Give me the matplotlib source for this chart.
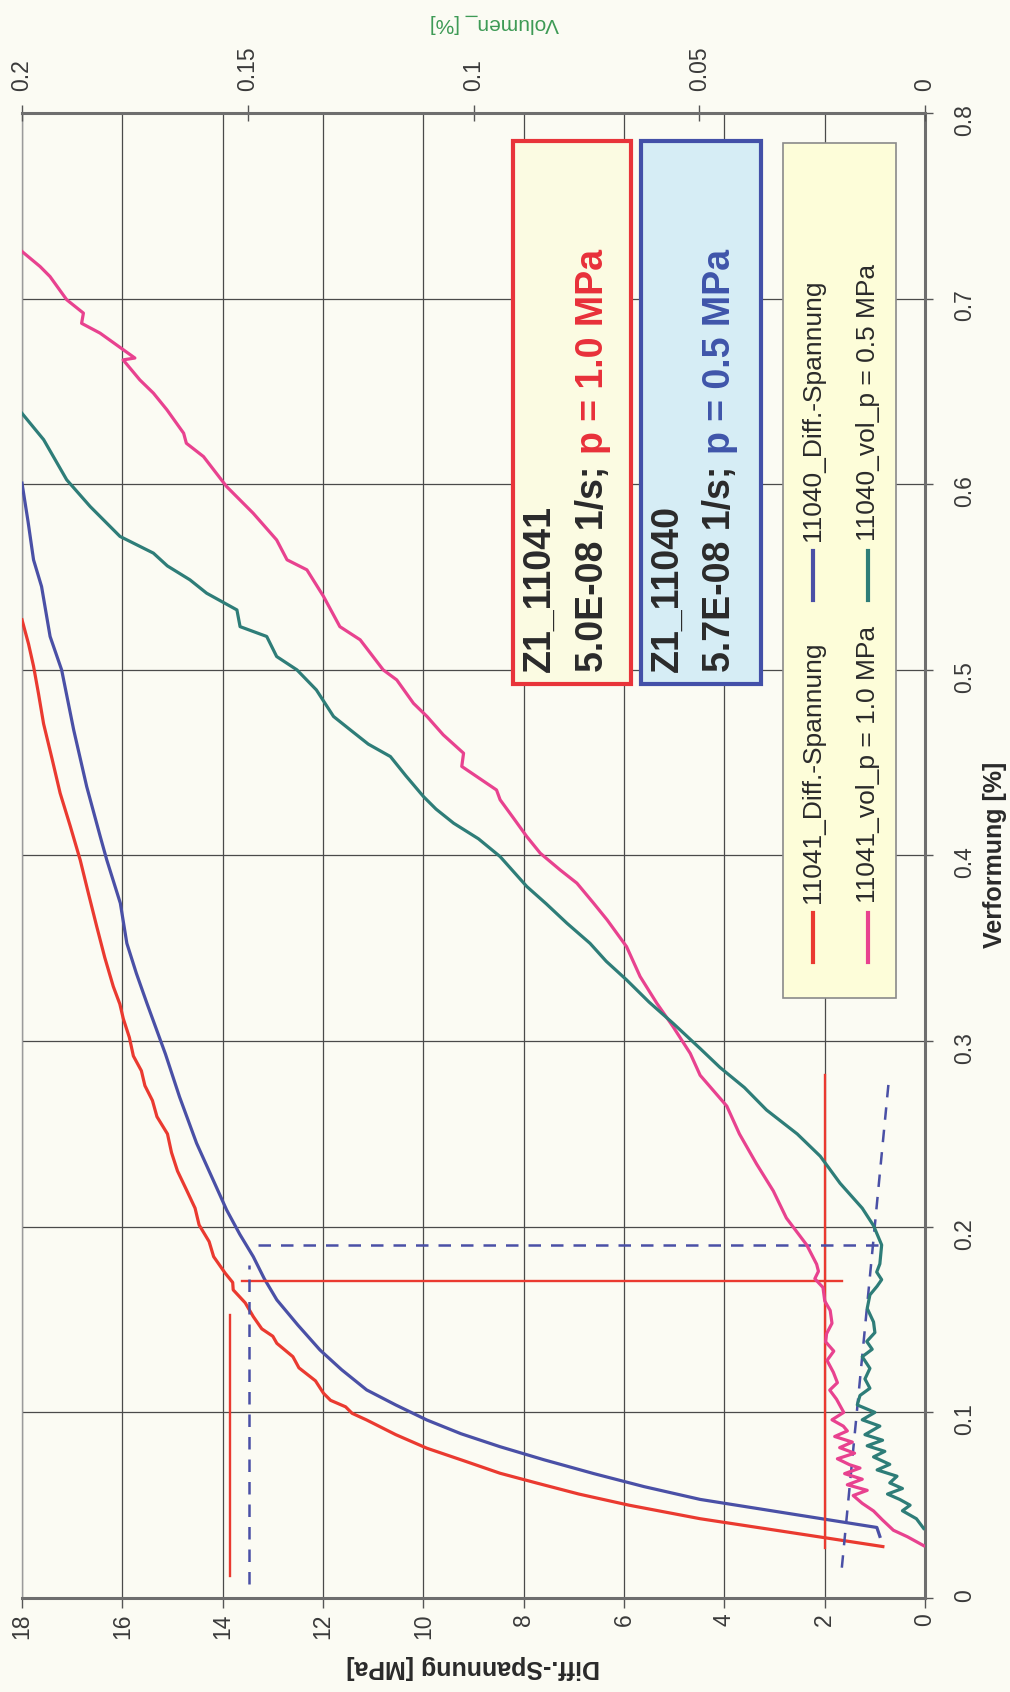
import matplotlib
matplotlib.use("Agg")
import matplotlib.pyplot as plt
from matplotlib.patches import Rectangle
from matplotlib.lines import Line2D

plt.rcParams['font.family'] = ['Liberation Sans', 'DejaVu Sans']

# --- axis ticks -------------------------------------------------------------
STRESS_TICKS = [18, 16, 14, 12, 10, 8, 6, 4, 2, 0]
STRAIN_TICKS = [0, 0.1, 0.2, 0.3, 0.4, 0.5, 0.6, 0.7, 0.8]
STRAIN_LABELS = ["0", "0.1", "0.2", "0.3", "0.4", "0.5", "0.6", "0.7", "0.8"]
VOL_TICKS = [0.2, 0.15, 0.1, 0.05, 0]
VOL_LABELS = ["0.2", "0.15", "0.1", "0.05", "0"]

# --- 11041 Diff.-Spannung (strain %, stress MPa) -----------------------------
red_eps = [0.0277, 0.0350, 0.0427, 0.0500, 0.0560, 0.0620, 0.0672, 0.0740, 0.0807,
           0.0880, 0.0959, 0.0995, 0.1030, 0.1065, 0.1103, 0.1170, 0.1240, 0.1300,
           0.1372, 0.1410, 0.1450, 0.1516, 0.1590, 0.1660, 0.1700, 0.1750, 0.1839,
           0.1920, 0.2010, 0.2100, 0.2198, 0.2300, 0.2400, 0.2500, 0.2593, 0.2680,
           0.2760, 0.2840, 0.2920, 0.3020, 0.3120, 0.3200, 0.3294, 0.3450, 0.3617,
           0.3800, 0.3976, 0.4160, 0.4336, 0.4520, 0.4710, 0.4870, 0.5020, 0.5140,
           0.5270]
red_sig = [0.84, 2.61, 4.48, 5.90, 6.90, 7.75, 8.47, 9.20, 9.93,
           10.55, 11.13, 11.42, 11.55, 11.85, 11.99, 12.15, 12.48, 12.60,
           12.92, 13.00, 13.22, 13.39, 13.55, 13.79, 13.80, 13.95, 14.18,
           14.27, 14.47, 14.55, 14.72, 14.90, 15.02, 15.10, 15.31, 15.40,
           15.55, 15.62, 15.78, 15.86, 15.98, 16.05, 16.18, 16.35, 16.51,
           16.68, 16.84, 17.04, 17.24, 17.40, 17.57, 17.67, 17.77, 17.87,
           18.00]

# --- 11040 Diff.-Spannung -----------------------------------------------------
blue_eps = [0.0332, 0.0380, 0.0455, 0.0531, 0.0600, 0.0670, 0.0745, 0.0815, 0.0885,
            0.0959, 0.1040, 0.1121, 0.1230, 0.1336, 0.1470, 0.1606, 0.1720, 0.1839,
            0.1960, 0.2090, 0.2270, 0.2450, 0.2700, 0.2930, 0.3204, 0.3365, 0.3527,
            0.3743, 0.3976, 0.4102, 0.4371, 0.4677, 0.5000, 0.5180, 0.5449, 0.5593,
            0.5800, 0.6006]
blue_sig = [0.90, 0.96, 2.71, 4.48, 5.60, 6.60, 7.60, 8.47, 9.25,
            9.93, 10.55, 11.13, 11.63, 12.06, 12.50, 12.92, 13.17, 13.39,
            13.66, 13.92, 14.22, 14.52, 14.86, 15.14, 15.51, 15.72, 15.91,
            16.04, 16.31, 16.44, 16.71, 16.97, 17.21, 17.44, 17.61, 17.77,
            17.88, 18.00]

# --- 11041 vol, p = 1.0 MPa (strain %, Volumen %) ----------------------------
mag_eps = [0.0282, 0.0330, 0.0365, 0.0420, 0.0469, 0.0510, 0.0552, 0.0580, 0.0610,
           0.0640, 0.0670, 0.0700, 0.0718, 0.0750, 0.0780, 0.0810, 0.0840, 0.0870,
           0.0900, 0.0926, 0.0960, 0.1000, 0.1071, 0.1120, 0.1160, 0.1216, 0.1280,
           0.1330, 0.1380, 0.1424, 0.1480, 0.1549, 0.1600, 0.1673, 0.1720, 0.1760,
           0.1798, 0.1902, 0.2047, 0.2193, 0.2338, 0.2500, 0.2650, 0.2816, 0.2934,
           0.3078, 0.3204, 0.3348, 0.3509, 0.3653, 0.3743, 0.3851, 0.3922, 0.4012,
           0.4102, 0.4200, 0.4300, 0.4353, 0.4480, 0.4551, 0.4650, 0.4749, 0.4820,
           0.4946, 0.5000, 0.5162, 0.5233, 0.5395, 0.5539, 0.5593, 0.5700, 0.5844,
           0.5988, 0.6149, 0.6221, 0.6275, 0.6401, 0.6491, 0.6562, 0.6670, 0.6680,
           0.6814, 0.6867, 0.6922, 0.6994, 0.7119, 0.7173, 0.7254]
mag_vol = [0.0003, 0.0039, 0.0070, 0.0094, 0.0114, 0.0139, 0.0159, 0.0128, 0.0172,
           0.0139, 0.0178, 0.0144, 0.0167, 0.0194, 0.0156, 0.0189, 0.0161, 0.0200,
           0.0172, 0.0181, 0.0206, 0.0180, 0.0196, 0.0211, 0.0194, 0.0203, 0.0217,
           0.0202, 0.0220, 0.0218, 0.0206, 0.0210, 0.0222, 0.0226, 0.0244, 0.0236,
           0.0240, 0.0262, 0.0307, 0.0336, 0.0373, 0.0411, 0.0439, 0.0498, 0.0520,
           0.0558, 0.0594, 0.0631, 0.0661, 0.0704, 0.0734, 0.0771, 0.0808, 0.0852,
           0.0882, 0.0911, 0.0941, 0.0949, 0.1026, 0.1022, 0.1067, 0.1103, 0.1133,
           0.1170, 0.1200, 0.1251, 0.1296, 0.1332, 0.1369, 0.1413, 0.1436, 0.1488,
           0.1547, 0.1598, 0.1636, 0.1642, 0.1679, 0.1709, 0.1739, 0.1776, 0.1750,
           0.1827, 0.1868, 0.1864, 0.1901, 0.1938, 0.1960, 0.2000]

# --- 11040 vol, p = 0.5 MPa ---------------------------------------------------
teal_eps = [0.0375, 0.0427, 0.0470, 0.0500, 0.0531, 0.0560, 0.0590, 0.0620, 0.0656,
            0.0690, 0.0720, 0.0760, 0.0790, 0.0820, 0.0850, 0.0880, 0.0926, 0.0960,
            0.1000, 0.1040, 0.1091, 0.1130, 0.1180, 0.1237, 0.1300, 0.1340, 0.1382,
            0.1430, 0.1487, 0.1560, 0.1633, 0.1680, 0.1715, 0.1756, 0.1800, 0.1902,
            0.2006, 0.2100, 0.2234, 0.2380, 0.2500, 0.2629, 0.2750, 0.2858, 0.2960,
            0.3096, 0.3210, 0.3330, 0.3430, 0.3527, 0.3635, 0.3740, 0.3833, 0.3994,
            0.4090, 0.4174, 0.4250, 0.4318, 0.4430, 0.4533, 0.4600, 0.4677, 0.4749,
            0.4892, 0.5000, 0.5072, 0.5180, 0.5233, 0.5323, 0.5413, 0.5485, 0.5560,
            0.5629, 0.5719, 0.5880, 0.6024, 0.6240, 0.6382]
teal_vol = [0.0003, 0.0019, 0.0050, 0.0033, 0.0056, 0.0083, 0.0050, 0.0078, 0.0062,
            0.0106, 0.0078, 0.0114, 0.0089, 0.0128, 0.0094, 0.0133, 0.0100, 0.0139,
            0.0111, 0.0150, 0.0144, 0.0122, 0.0133, 0.0122, 0.0139, 0.0117, 0.0129,
            0.0111, 0.0114, 0.0128, 0.0122, 0.0106, 0.0096, 0.0107, 0.0100, 0.0096,
            0.0114, 0.0139, 0.0188, 0.0232, 0.0283, 0.0351, 0.0400, 0.0454, 0.0498,
            0.0558, 0.0611, 0.0661, 0.0706, 0.0742, 0.0793, 0.0839, 0.0882, 0.0941,
            0.0989, 0.1044, 0.1083, 0.1111, 0.1150, 0.1184, 0.1233, 0.1273, 0.1310,
            0.1348, 0.1391, 0.1436, 0.1458, 0.1517, 0.1524, 0.1591, 0.1628, 0.1678,
            0.1709, 0.1783, 0.1849, 0.1901, 0.1952, 0.2000]

# --- construction lines (stress MPa, strain %) -------------------------------
red_line_sig = [[13.62, 1.66], [2.0, 2.0], [13.85, 13.85]]
red_line_eps = [[0.171, 0.171], [0.027, 0.282], [0.012, 0.1525]]
blue_line_sig = [[13.29, 0.86], [13.47, 13.47], [0.73, 1.66]]
blue_line_eps = [[0.190, 0.190], [0.0075, 0.1794], [0.2764, 0.0157]]

legend_labels = ["11041_Diff.-Spannung", "11041_vol_p = 1.0 MPa",
                 "11040_Diff.-Spannung", "11040_vol_p = 0.5 MPa"]

PAPER = '#fbfbf3'
RED = '#ea3a30'
BLUE = '#4a50a6'
TEAL = '#2e7d78'
MAGENTA = '#e8428f'
TICKC = '#3a3a3a'

W, H = 1010, 1692
L, R, T, B = 22, 925, 113, 1598

fig = plt.figure(figsize=(W / 100, H / 100), dpi=100, facecolor=PAPER)
ax = fig.add_axes([L / W, 1 - B / H, (R - L) / W, (B - T) / H])
ax.set_facecolor(PAPER)

ax.set_xlim(18, 0)
ax.set_ylim(0, 0.8)
ax.set_xticks(STRESS_TICKS)
ax.set_xticklabels([str(v) for v in STRESS_TICKS])
ax.set_yticks(STRAIN_TICKS)
ax.set_yticklabels(STRAIN_LABELS)
ax.yaxis.tick_right()
ax.tick_params(axis='x', direction='out', length=7, width=1, pad=4, labelsize=16.5,
               labelrotation=90, colors='#555', labelcolor=TICKC)
ax.tick_params(axis='y', direction='out', length=6, width=1, pad=14, labelsize=16.5,
               labelrotation=90, colors='#555', labelcolor=TICKC)
ax.grid(True, color='#4a4a4a', lw=0.9)
ax.set_axisbelow(True)
for side in ['bottom', 'right']:
    ax.spines[side].set_color('#6e6e6e')
    ax.spines[side].set_linewidth(2.2)
ax.spines['left'].set_color('#9a9a9a')
ax.spines['left'].set_linewidth(1.0)
ax.spines['top'].set_visible(False)

ax.plot(red_sig, red_eps, color=RED, lw=2.3, zorder=3)
ax.plot(blue_sig, blue_eps, color=BLUE, lw=2.3, zorder=3)

for xs, ys in zip(red_line_sig, red_line_eps):
    ax.plot(xs, ys, color=RED, lw=1.7, zorder=4)
for xs, ys in zip(blue_line_sig, blue_line_eps):
    ax.plot(xs, ys, color=BLUE, lw=1.8, ls=(0, (5, 4)), zorder=4)

# secondary axis: Volumen_
ax2 = ax.twiny()
ax2.set_xlim(0.2, 0)
ax2.set_xticks(VOL_TICKS)
ax2.set_xticklabels(VOL_LABELS)
ax2.tick_params(axis='x', direction='inout', length=12, width=1, pad=10, labelsize=16.5,
                labelrotation=90, colors='#555', labelcolor=TICKC)
for side in ['bottom', 'left', 'right']:
    ax2.spines[side].set_visible(False)
ax2.spines['top'].set_color('#6e6e6e')
ax2.spines['top'].set_linewidth(2.2)

ax2.plot(mag_vol, mag_eps, color=MAGENTA, lw=2.3, zorder=3)
ax2.plot(teal_vol, teal_eps, color=TEAL, lw=2.3, zorder=3)

# axis titles (the whole chart is turned by 90 degrees)
fig.text(0.468, 0.0148, "Diff.-Spannung [MPa]", rotation=180, ha='center', va='center',
         fontsize=18, fontweight='bold', color='#2a2a2a')
fig.text(0.49, 0.986, "Volumen_ [%]", rotation=180, ha='center', va='center',
         fontsize=15, color='#3d9a55')
fig.text(0.985, 0.495, "Verformung [%]", rotation=90, ha='center', va='center',
         fontsize=18, fontweight='bold', color='#2a2a2a')


def box(x0, x1, fill, edge):
    ax2.add_patch(Rectangle((x0, 0.6155), x1 - x0, 0.9811 - 0.6155, transform=ax2.transAxes,
                            facecolor=fill, edgecolor=edge, lw=3, zorder=10, clip_on=False))


box(0.5437, 0.6744, '#fbfbe2', '#e8343a')
box(0.6855, 0.8184, '#d6edf5', '#4350a8')

txt_kw = dict(rotation=90, ha='center', va='bottom', fontsize=27, fontweight='bold',
              transform=ax2.transAxes, zorder=11)
ax2.text(0.5736, 0.6236, "Z1_11041", color='#2a2a2a', **txt_kw)
rate_red = ax2.text(0.6323, 0.6236, "5.0E-08 1/s;", color='#2a2a2a', **txt_kw)
ax2.text(0.7154, 0.6236, "Z1_11040", color='#2a2a2a', **txt_kw)
rate_blue = ax2.text(0.7730, 0.6236, "5.7E-08 1/s;", color='#2a2a2a', **txt_kw)

# legend, drawn by hand because it is turned too
ax2.add_patch(Rectangle((0.8427, 0.4040), 0.9679 - 0.8427, 0.9798 - 0.4040,
                        transform=ax2.transAxes, facecolor='#fdfdd9', edgecolor='#8a8a8a',
                        lw=1.2, zorder=10, clip_on=False))
leg_x = [0.876, 0.9369, 0.876, 0.9369]
leg_y = [0.4283, 0.4283, 0.672, 0.672]
leg_c = [RED, MAGENTA, BLUE, TEAL]
for x, y, c, lab in zip(leg_x, leg_y, leg_c, legend_labels):
    ax2.add_line(Line2D([x, x], [y, y + 0.033], color=c, lw=3, transform=ax2.transAxes,
                        zorder=11, clip_on=False))
    ax2.text(x, y + 0.0395, lab, rotation=90, ha='center', va='bottom', fontsize=19,
             color='#2a2a2a', transform=ax2.transAxes, zorder=11)

# coloured pressure part right after the strain rate
fig.canvas.draw()
renderer = fig.canvas.get_renderer()
for t, label, col in [(rate_red, "p = 1.0 MPa", '#e8303a'), (rate_blue, "p = 0.5 MPa", '#3f55aa')]:
    bb = t.get_window_extent(renderer)
    x_ax, y_top = ax2.transAxes.inverted().transform((bb.x0, bb.y1))
    ax2.text(t.get_position()[0], y_top + 0.0075, label, color=col, **txt_kw)

fig.savefig("out.png", dpi=100, facecolor=PAPER)
